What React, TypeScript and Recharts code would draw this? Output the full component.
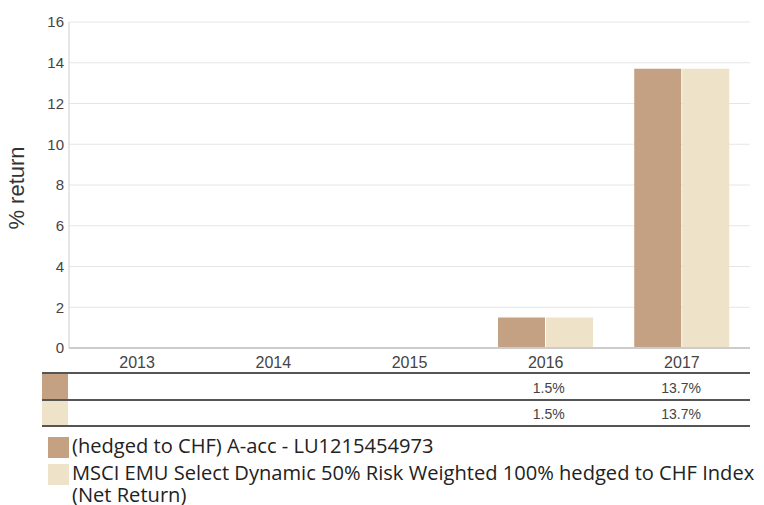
import React from "react";
import { BarChart, Bar, XAxis, YAxis, CartesianGrid } from "recharts";

const years = ["2013", "2014", "2015", "2016", "2017"];
const fundValues: (number | null)[] = [null, null, null, 1.5, 13.7];
const indexValues: (number | null)[] = [null, null, null, 1.5, 13.7];
const yTicks = [0, 2, 4, 6, 8, 10, 12, 14, 16];
const seriesNames = [
  "(hedged to CHF) A-acc - LU1215454973",
  "MSCI EMU Select Dynamic 50% Risk Weighted 100% hedged to CHF Index (Net Return)",
];
const colors = ["#C4A182", "#EEE3C8"];

const data = years.map((y, i) => ({ year: y, fund: fundValues[i], index: indexValues[i] }));

const fmt = (v: number | null) => (v == null ? "" : `${v.toFixed(1)}%`);

const FONT = "Liberation Sans, Arial, sans-serif";

const TableTick = (props: any) => {
  const { x, y, payload, index } = props;
  return (
    <g>
      <text x={x} y={y + 20} textAnchor="middle" fill="#444" fontSize={16} fontFamily={FONT}>
        {payload.value}
      </text>
      <text x={x + 19} y={y + 45} textAnchor="end" fill="#444" fontSize={14} fontFamily={FONT}>
        {fmt(fundValues[index])}
      </text>
      <text x={x + 19} y={y + 71} textAnchor="end" fill="#444" fontSize={14} fontFamily={FONT}>
        {fmt(indexValues[index])}
      </text>
    </g>
  );
};

const YLabel = () => (
  <text
    transform="translate(24,188) rotate(-90)"
    textAnchor="middle"
    fill="#333"
    fontSize={22}
    fontFamily={FONT}
  >
    % return
  </text>
);

export default function App() {
  return (
    <div style={{ position: "absolute", left: 0, top: 0, width: 764, height: 505, background: "#fff", overflow: "hidden" }}>
      <BarChart
        width={764}
        height={505}
        data={data}
        margin={{ top: 22, right: 14, left: 0, bottom: 77 }}
        barCategoryGap="15%"
        barGap={1}
      >
        <CartesianGrid vertical={false} stroke="#e6e6e6" />
        <YAxis
          width={69}
          domain={[0, 16]}
          ticks={yTicks}
          interval={0}
          tickLine={false}
          tickSize={0}
          tickMargin={5}
          axisLine={{ stroke: "#ccc" }}
          tick={{ fill: "#444", fontSize: 15, fontFamily: FONT }}
          label={{ content: <YLabel /> }}
        />
        <XAxis
          dataKey="year"
          height={80}
          tickLine={false}
          tickSize={0}
          tickMargin={0}
          axisLine={{ stroke: "#ccc", strokeWidth: 2 }}
          tick={<TableTick />}
          interval={0}
        />
        <Bar dataKey="fund" fill={colors[0]} isAnimationActive={false} />
        <Bar dataKey="index" fill={colors[1]} isAnimationActive={false} />
      </BarChart>
      {/* table lines and swatches */}
      {[373, 400, 426].map((t) => (
        <div key={t} style={{ position: "absolute", left: 42, top: t - 1, width: 708, height: 2, background: "#555" }} />
      ))}
      <div style={{ position: "absolute", left: 42, top: 374, width: 26, height: 25, background: colors[0] }} />
      <div style={{ position: "absolute", left: 42, top: 401, width: 26, height: 24, background: colors[1] }} />
      {/* legend */}
      <div style={{ position: "absolute", left: 48, top: 435, width: 714, fontFamily: "Open Sans", fontSize: 20.1, color: "#222", lineHeight: "22px" }}>
        {seriesNames.map((n, i) => (
          <div key={n} style={{ display: "flex", alignItems: "flex-start", marginBottom: 4 }}>
            <div style={{ width: 21, height: 21, background: colors[i], flex: "none", marginTop: 2 }} />
            <div style={{ marginLeft: 3, width: 688 }}>{n}</div>
          </div>
        ))}
      </div>
    </div>
  );
}
